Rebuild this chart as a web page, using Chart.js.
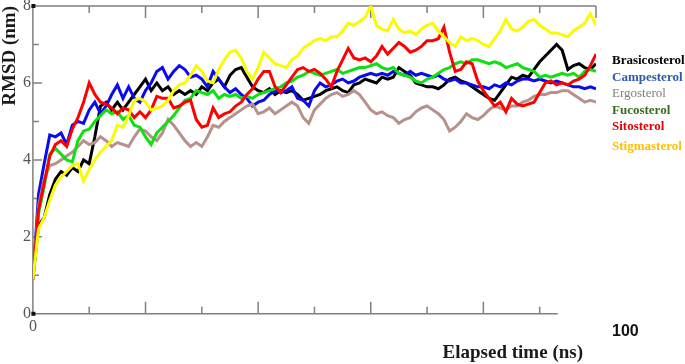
<!DOCTYPE html>
<html><head><meta charset="utf-8">
<script src="https://cdn.jsdelivr.net/npm/chart.js@4/dist/chart.umd.min.js"></script>
<style>html,body{margin:0;padding:0;background:#fff;overflow:hidden}canvas{display:block}</style>
</head><body>
<canvas id="c" width="685" height="364"></canvas>
<script>
const times = [
0,1,2,3,4,5,6,7,8,9,
10,11,12,13,14,15,16,17,18,19,
20,21,22,23,24,25,26,27,28,29,
30,31,32,33,34,35,36,37,38,39,
40,41,42,43,44,45,46,47,48,49,
50,51,52,53,54,55,56,57,58,59,
60,61,62,63,64,65,66,67,68,69,
70,71,72,73,74,75,76,77,78,79,
80,81,82,83,84,85,86,87,88,89,
90,91,92,93,94,95,96,97,98,99,
100];

const brasicosterol = [
0.9,2.3,2.5,3.1,3.5,3.7,3.6,3.8,3.7,4.0,
3.9,4.6,5.4,5.5,5.3,5.5,5.3,5.5,5.7,5.9,
6.1,5.8,6.0,5.8,5.9,5.7,5.8,5.7,5.8,5.7,
5.9,5.8,6.0,6.1,5.9,6.2,6.35,6.4,6.15,5.9,
5.8,5.75,5.85,5.7,5.8,5.75,5.8,5.7,5.55,5.6,
5.65,5.7,5.8,5.85,5.9,5.8,5.75,5.95,6.0,6.1,
6.05,6.0,6.15,6.1,6.15,6.4,6.3,6.2,6.0,5.95,
5.9,5.9,5.85,5.95,6.1,6.15,6.05,6.0,5.9,5.8,
5.7,5.6,5.55,5.75,5.95,6.15,6.1,6.2,6.15,6.35,
6.55,6.7,6.85,7.0,6.85,6.35,6.45,6.5,6.4,6.35,
6.5];

const campesterol = [
0.9,3.1,3.9,4.65,4.6,4.7,4.4,4.9,5.0,4.95,
5.3,5.5,5.2,5.4,5.7,5.95,5.6,5.9,5.6,5.5,
5.8,6.0,6.3,6.4,6.1,6.3,6.45,6.35,6.15,6.2,
6.1,5.9,6.3,6.1,5.9,5.75,5.85,5.7,5.6,5.4,
5.5,5.55,5.7,5.8,5.75,5.8,5.9,5.6,5.55,5.4,
5.8,6.0,5.9,5.95,6.05,6.1,6.0,6.05,6.15,6.2,
6.25,6.2,6.25,6.2,6.3,6.25,6.2,6.3,6.2,6.25,
6.2,6.15,6.2,6.1,6.05,6.1,6.0,6.0,5.95,5.9,
5.9,5.85,5.95,5.9,6.0,5.95,6.05,6.1,6.1,6.05,
6.1,6.05,6.0,6.05,6.0,5.95,5.9,5.9,5.85,5.9,
5.85];

const ergosterol = [
0.9,2.8,3.5,3.85,3.9,4.0,4.1,4.2,4.35,4.5,
4.4,4.45,4.6,4.5,4.35,4.45,4.4,4.35,4.6,4.8,
4.75,4.6,4.5,4.7,5.05,4.9,4.7,4.5,4.35,4.45,
4.35,4.6,4.9,4.85,5.0,5.1,5.2,5.3,5.4,5.45,
5.2,5.25,5.35,5.2,5.3,5.4,5.5,5.4,5.1,4.95,
5.3,5.45,5.6,5.7,5.75,5.65,5.7,5.8,5.7,5.5,
5.3,5.2,5.25,5.15,5.1,4.95,5.05,5.1,5.25,5.35,
5.4,5.3,5.2,5.05,4.75,4.85,5.0,5.2,5.1,5.05,
5.15,5.3,5.4,5.35,5.3,5.4,5.4,5.5,5.55,5.65,
5.7,5.7,5.75,5.75,5.8,5.8,5.7,5.6,5.5,5.55,
5.5];

const fucosterol = [
0.9,2.6,3.3,4.15,4.3,4.15,4.0,3.95,4.5,4.75,
4.8,5.0,5.15,5.3,5.2,5.25,5.05,5.15,4.9,4.85,
4.6,4.4,4.7,4.85,5.0,5.15,5.35,5.55,5.6,5.8,
5.75,5.7,5.8,5.6,5.7,5.65,5.7,5.6,5.65,5.6,
5.7,5.75,5.8,5.85,5.9,6.0,6.05,6.15,6.2,6.3,
6.25,6.2,6.25,6.3,6.35,6.25,6.3,6.35,6.4,6.4,
6.45,6.5,6.4,6.35,6.4,6.25,6.2,6.15,6.05,6.0,
6.1,6.15,6.25,6.35,6.4,6.5,6.55,6.5,6.6,6.6,
6.55,6.5,6.55,6.5,6.4,6.45,6.5,6.4,6.35,6.3,
6.15,6.2,6.15,6.2,6.25,6.2,6.25,6.15,6.3,6.35,
6.3];

const sitosterol = [
0.9,2.7,3.4,4.1,4.4,4.5,4.35,4.8,5.1,5.5,
6.0,5.7,5.5,5.45,5.35,5.2,5.35,5.3,5.1,5.25,
5.1,5.3,5.65,5.6,5.6,5.35,5.4,5.5,5.55,5.05,
4.85,4.9,5.35,5.1,5.2,5.25,5.4,5.5,5.7,5.85,
6.1,6.3,6.3,5.9,5.75,5.95,6.15,6.35,6.4,6.3,
6.35,6.25,6.1,5.9,6.3,6.6,6.9,6.65,6.6,6.65,
6.55,6.7,6.95,6.75,6.9,7.05,6.95,6.8,6.85,6.95,
7.1,7.1,7.15,7.45,6.8,6.3,6.35,6.55,6.5,6.05,
5.8,5.6,5.4,5.5,5.25,5.6,5.45,5.4,5.45,5.5,
5.75,6.0,6.05,5.95,6.0,5.95,6.05,6.1,6.2,6.45,
6.75];

const stigmasterol = [
0.9,2.2,2.5,2.95,3.35,3.55,3.7,3.85,3.9,3.45,
3.75,4.0,4.2,4.35,4.5,4.9,4.85,5.15,5.55,5.6,
5.5,5.3,5.35,5.4,5.55,5.8,5.95,6.0,6.2,6.45,
6.3,6.05,6.0,6.35,6.6,6.8,6.85,6.65,6.3,6.1,
6.4,6.8,6.65,6.5,6.45,6.4,6.6,6.7,6.9,7.0,
7.1,7.15,7.1,7.2,7.2,7.35,7.55,7.5,7.6,7.7,
8.0,7.5,7.4,7.35,7.65,7.4,7.3,7.35,7.25,7.4,
7.5,7.55,7.35,7.2,7.05,6.95,7.2,7.1,7.15,7.1,
7.0,6.95,7.15,7.35,7.65,7.4,7.35,7.45,7.6,7.65,
7.5,7.4,7.3,7.3,7.25,7.2,7.35,7.45,7.55,7.8,
7.5];

const seriesNames = ['Brasicosterol','Campesterol','Ergosterol','Fucosterol','Sitosterol','Stigmasterol'];
const seriesValues = [brasicosterol, campesterol, ergosterol, fucosterol, sitosterol, stigmasterol];
const yTickLabels = ['0','2','4','6','8'];
const xTickLabels = {0:'0'};
const xEndLabel = '100';
const xTitle = 'Elapsed time (ns)';
const yTitle = 'RMSD (nm)';

/* styles */
const lineColors = ['#000000','#0a0af0','#b8918d','#10e010','#ff0000','#fafa00'];
const legendColors = ['#000000','#2f5aa8','#7f7f7f','#3b6b1d','#e00000','#ffc000'];
const legendWeights = ['bold','bold','normal','bold','bold','bold'];
const legendOffsets = [55,72,88,105,121,141];
const serif = '"Liberation Serif", "Times New Roman", serif';

const framePlugin = {
  id: 'frame',
  beforeDatasetsDraw(chart) {
    const {ctx, chartArea: a, scales: {x, y}} = chart;
    ctx.save();
    ctx.strokeStyle = '#808080';
    ctx.lineWidth = 1.5;
    ctx.beginPath();
    ctx.moveTo(a.left, a.top); ctx.lineTo(a.left, a.bottom);
    ctx.moveTo(a.left, a.top); ctx.lineTo(a.right, a.top);
    ctx.moveTo(a.left, a.bottom); ctx.lineTo(x.getPixelForValue(93.2), a.bottom);
    x.ticks.forEach(t => {
      if (t.value === 0) return;
      const px = x.getPixelForValue(t.value);
      const L = t.value % 20 === 0 ? 12 : 7;
      ctx.moveTo(px, a.top); ctx.lineTo(px, a.top + L);
      if (t.value < 93) { ctx.moveTo(px, a.bottom); ctx.lineTo(px, a.bottom - L); }
    });
    y.ticks.forEach(t => {
      if (t.value === 0 || t.value === 8) return;
      const py = y.getPixelForValue(t.value);
      const L = t.value % 2 === 0 ? 9 : 6;
      ctx.moveTo(a.left, py); ctx.lineTo(a.left + L, py);
    });
    ctx.stroke();
    ctx.fillStyle = '#111';
    ctx.fillRect(a.left - 1.5, a.top - 2, 4, 4);
    ctx.fillRect(a.left - 1.5, a.bottom - 2, 4, 4);
    ctx.restore();
  },
  afterDraw(chart) {
    const {ctx, chartArea: a, scales: {x}} = chart;
    ctx.save();
    ctx.textBaseline = 'middle';
    ctx.textAlign = 'left';
    seriesNames.forEach((n, i) => {
      ctx.font = legendWeights[i] + ' 13px ' + serif;
      ctx.fillStyle = legendColors[i];
      ctx.fillText(n, a.right + 16, a.top + legendOffsets[i]);
    });
    ctx.textBaseline = 'alphabetic';
    ctx.font = 'bold 16px "Liberation Sans", Arial, sans-serif';
    ctx.fillStyle = '#111';
    ctx.fillText(xEndLabel, x.getPixelForValue(100) + 16, a.bottom + 22);
    ctx.font = 'bold 19px ' + serif;
    ctx.textAlign = 'right';
    ctx.fillStyle = '#1a1a1a';
    ctx.fillText(xTitle, x.getPixelForValue(100) - 13, a.bottom + 44);
    ctx.restore();
  }
};

new Chart(document.getElementById('c'), {
  type: 'line',
  data: {
    datasets: seriesValues.map((vals, i) => ({
      label: seriesNames[i],
      data: times.map((t, j) => ({x: t, y: vals[j]})),
      borderColor: lineColors[i],
      backgroundColor: lineColors[i],
      borderWidth: 3,
      pointRadius: 0,
      tension: 0,
      fill: false,
      order: seriesValues.length - i
    }))
  },
  options: {
    responsive: false,
    animation: false,
    devicePixelRatio: 1,
    layout: {padding: {top: 6, right: 89, bottom: 25, left: 0}},
    plugins: {legend: {display: false}, tooltip: {enabled: false}},
    scales: {
      x: {
        type: 'linear', min: 0, max: 100,
        grid: {display: false, drawTicks: false},
        border: {display: false},
        ticks: {
          stepSize: 10, autoSkip: false, maxRotation: 0, padding: 3,
          color: '#555', font: {family: serif, size: 16},
          callback: v => (xTickLabels[v] !== undefined ? xTickLabels[v] : '')
        }
      },
      y: {
        min: 0, max: 8,
        grid: {display: false, drawTicks: false},
        border: {display: false},
        ticks: {
          stepSize: 1, autoSkip: false, padding: 2,
          color: '#555', font: {family: serif, size: 16, lineHeight: 0.5},
          callback: v => (v % 2 === 0 ? yTickLabels[v / 2] : '')
        },
        title: {
          display: true, text: yTitle, align: 'end', padding: 0,
          color: '#1a1a1a', font: {family: serif, size: 19, weight: 'bold', lineHeight: 1.1}
        }
      }
    }
  },
  plugins: [framePlugin]
});
</script>
</body></html>
